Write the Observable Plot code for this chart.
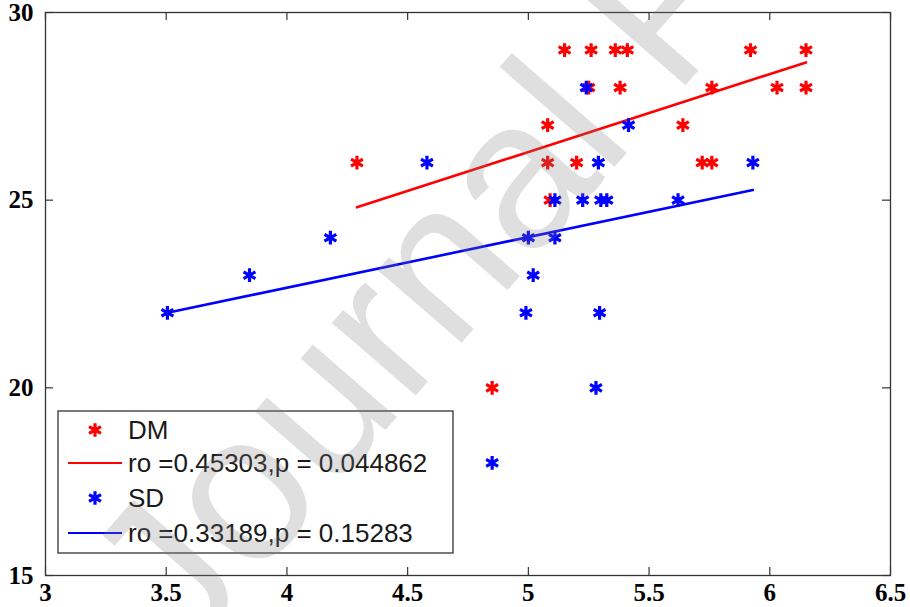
<!DOCTYPE html>
<html><head><meta charset="utf-8">
<script src="https://cdn.jsdelivr.net/npm/d3@7"></script>
<script src="https://cdn.jsdelivr.net/npm/@observablehq/plot@0.6"></script>
<style>body{margin:0;background:#fff}#chart svg{display:block}</style>
</head><body><div id="chart"></div>
<script>
// DM series (x, y)
const dmX = [5.15, 5.26, 5.36, 5.41, 5.92, 6.15,
             5.25, 5.38, 5.76, 6.03, 6.15,
             5.08, 5.64,
             4.29, 5.08, 5.20, 5.72, 5.76,
             5.09,
             4.85];
const dmY = [29, 29, 29, 29, 29, 29,
             28, 28, 28, 28, 28,
             27, 27,
             26, 26, 26, 26, 26,
             25,
             20];
// SD series (x, y)
const sdX = [5.24,
             5.415,
             4.58, 5.29, 5.93,
             5.11, 5.225, 5.30, 5.325, 5.62,
             4.18, 5.00, 5.11,
             3.845, 5.02,
             3.505, 4.99, 5.295,
             5.28,
             4.85];
const sdY = [28,
             27,
             26, 26, 26,
             25, 25, 25, 25, 25,
             24, 24, 24,
             23, 23,
             22, 22, 22,
             20,
             18];
// fitted lines (endpoints)
const dmFitX = [4.29, 6.15];
const dmFitY = [24.81, 28.67];
const sdFitX = [3.505, 5.93];
const sdFitY = [22.0, 25.27];
// ticks
const xTicks = [3, 3.5, 4, 4.5, 5, 5.5, 6, 6.5];
const yTicks = [15, 20, 25, 30];
// legend labels
const legendLabels = ["DM", "ro =0.45303,p = 0.044862", "SD", "ro =0.33189,p = 0.15283"];
const watermark = "Journal Pre-proof";

const W = 910, H = 607, mL = 45, mR = 20, mT = 12, mB = 32;
const innerW = W - mL - mR, innerH = H - mT - mB;
const tickLen = 8;
const dm = dmX.map((x, i) => ({x, y: dmY[i]}));
const sd = sdX.map((x, i) => ({x, y: sdY[i]}));
const dmFit = dmFitX.map((x, i) => ({x, y: dmFitY[i]}));
const sdFit = sdFitX.map((x, i) => ({x, y: sdFitY[i]}));
const axisFont = {fontSize: 25, fontWeight: "bold", fontFamily: "Liberation Serif, Times New Roman, serif", fill: "#000"};
const R = 6.5;

const plot = Plot.plot({
  width: W, height: H, marginLeft: mL, marginRight: mR, marginTop: mT, marginBottom: mB,
  x: {domain: [3, 6.5], label: null},
  y: {domain: [15, 30], label: null},
  style: {background: "#fff", overflow: "visible"},
  marks: [
    Plot.ruleX(xTicks, {x: d => d, insetTop: innerH - tickLen, stroke: "#333", strokeWidth: 1.2}),
    Plot.ruleX(xTicks, {x: d => d, insetBottom: innerH - tickLen, stroke: "#333", strokeWidth: 1.2}),
    Plot.ruleY(yTicks, {y: d => d, insetRight: innerW - tickLen, stroke: "#333", strokeWidth: 1.2}),
    Plot.ruleY(yTicks, {y: d => d, insetLeft: innerW - tickLen, stroke: "#333", strokeWidth: 1.2}),
    Plot.axisX(xTicks, {tickSize: 0, tickPadding: 8, label: null, tickFormat: d => String(d), ...axisFont}),
    Plot.axisY(yTicks, {tickSize: 0, tickPadding: 12, label: null, tickFormat: d => String(d), ...axisFont}),
    Plot.dot(dm, {x: "x", y: "y", symbol: "asterisk", r: R, stroke: "#ff0000", strokeWidth: 3.2}),
    Plot.line(dmFit, {x: "x", y: "y", stroke: "#ff0000", strokeWidth: 2.6}),
    Plot.dot(sd, {x: "x", y: "y", symbol: "asterisk", r: R, stroke: "#0000ff", strokeWidth: 3.2}),
    Plot.line(sdFit, {x: "x", y: "y", stroke: "#0000ff", strokeWidth: 2.6}),
    Plot.frame({stroke: "#333", strokeWidth: 1.3})
  ]
});
document.getElementById("chart").appendChild(plot);

// legend box inside plot area
const svg = d3.select(plot);
const lg = svg.append("g").attr("font-family", "Liberation Sans, Arial, sans-serif")
  .attr("font-size", 26).attr("text-anchor", "start");
lg.append("rect").attr("x", 58).attr("y", 411).attr("width", 395).attr("height", 142)
  .attr("fill", "#fff").attr("stroke", "#333").attr("stroke-width", 1.3);
const rowsY = [430, 463, 498, 533];
const colors = ["#ff0000", "#ff0000", "#0000ff", "#0000ff"];
const sym = d3.symbol(d3.symbolAsterisk, R * R * Math.PI);
rowsY.forEach((yy, i) => {
  if (i % 2 === 0) {
    lg.append("path").attr("d", sym()).attr("transform", `translate(95,${yy})`)
      .attr("fill", "none").attr("stroke", colors[i]).attr("stroke-width", 3.2);
  } else {
    lg.append("line").attr("x1", 68).attr("x2", 122).attr("y1", yy).attr("y2", yy)
      .attr("stroke", colors[i]).attr("stroke-width", 2.2);
  }
  lg.append("text").attr("x", 128).attr("y", yy).attr("dy", "0.36em")
    .attr("text-anchor", "start").attr("fill", "#1a1a1a").text(legendLabels[i]);
});

// watermark on top
svg.append("text").attr("transform", "translate(184,662) rotate(-49)")
  .attr("text-anchor", "start")
  .attr("font-family", "Liberation Sans, Arial, sans-serif").attr("font-size", 210)
  .attr("fill", "rgb(128,128,128)").attr("fill-opacity", 0.25).attr("pointer-events", "none")
  .text(watermark);
</script>
</body></html>
